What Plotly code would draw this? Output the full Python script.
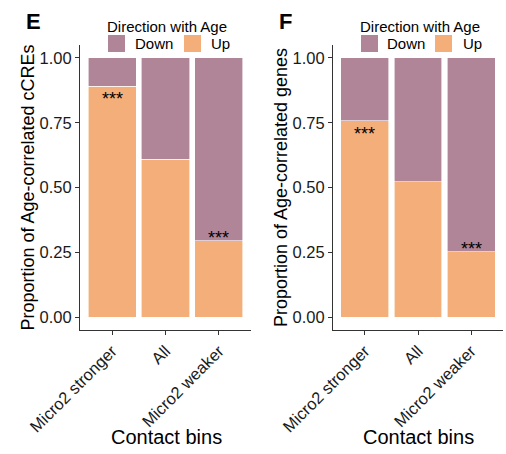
import plotly.graph_objects as go

# contact bins on the x axis
bins = ["Micro2 stronger", "All", "Micro2 weaker"]

# panel E: cCREs
cre_up = [0.89, 0.61, 0.295]
cre_down = [0.11, 0.39, 0.705]
cre_sig = ["***", "", "***"]

# panel F: genes
gene_up = [0.757, 0.522, 0.252]
gene_down = [0.243, 0.478, 0.748]
gene_sig = ["***", "", "***"]

col_down = "#B08598"
col_up = "#F3AE79"
font = "Liberation Sans, Arial, sans-serif"

fig = go.Figure()

panels = [
    ("x", "y", cre_up, cre_down, cre_sig),
    ("x2", "y2", gene_up, gene_down, gene_sig),
]
for xa, ya, up, down, sig in panels:
    fig.add_trace(go.Bar(x=bins, y=up, name="Up", marker_color=col_up,
                         marker_line=dict(color="white", width=0.6),
                         width=0.9, xaxis=xa, yaxis=ya, showlegend=False))
    fig.add_trace(go.Bar(x=bins, y=down, name="Down", marker_color=col_down,
                         marker_line=dict(color="white", width=0.6),
                         width=0.9, xaxis=xa, yaxis=ya, showlegend=False))
    for b, v, s in zip(bins, up, sig):
        if not s:
            continue
        # stars sit just under the split when Up dominates, just over it otherwise
        if v > 0.5:
            anchor, shift = "top", -1
        else:
            anchor, shift = "middle", 3
        fig.add_annotation(x=b, y=v, xref=xa, yref=ya, text=s, showarrow=False,
                           xanchor="center", yanchor=anchor, yshift=shift,
                           font=dict(size=18, color="black", family=font))

W, H = 506, 454

def px_x(p):
    return p / W

def px_y(p):
    return 1 - p / H

axis_common = dict(showline=True, linecolor="#333333", linewidth=1,
                   ticks="outside", ticklen=4, tickcolor="#333333",
                   showgrid=False, zeroline=False, automargin=False,
                   tickfont=dict(size=16.5, color="#1a1a1a", family=font))

fig.update_layout(
    width=W, height=H,
    margin=dict(l=0, r=0, t=0, b=0),
    paper_bgcolor="white", plot_bgcolor="white",
    barmode="stack", bargap=0.1,
    font=dict(family=font, color="black"),
    xaxis=dict(domain=[px_x(80), px_x(251)], anchor="y", type="category",
               range=[-0.6, 2.6], tickangle=-45, **axis_common),
    yaxis=dict(domain=[px_y(330), px_y(45)], anchor="x", range=[-0.05, 1.05],
               tickvals=[0, 0.25, 0.5, 0.75, 1.0], tickformat=".2f",
               title=dict(text="Proportion of Age-correlated cCREs",
                          font=dict(size=18), standoff=0),
               **axis_common),
    xaxis2=dict(domain=[px_x(333), px_x(503)], anchor="y2", type="category",
                range=[-0.6, 2.6], tickangle=-45, **axis_common),
    yaxis2=dict(domain=[px_y(330), px_y(45)], anchor="x2", range=[-0.05, 1.05],
                tickvals=[0, 0.25, 0.5, 0.75, 1.0], tickformat=".2f",
                title=dict(text="Proportion of Age-correlated genes",
                           font=dict(size=18), standoff=0),
                **axis_common),
)

# x axis titles, placed by hand so they sit close under the rotated labels
for cx in [166, 418]:
    fig.add_annotation(x=px_x(cx), y=px_y(437), xref="paper", yref="paper",
                       text="Contact bins", showarrow=False,
                       xanchor="center", yanchor="middle",
                       font=dict(size=20, color="black", family=font))

# panel letters
for letter, xp in [("E", 33), ("F", 285)]:
    fig.add_annotation(x=px_x(xp), y=px_y(21), xref="paper", yref="paper",
                       text="<b>%s</b>" % letter, showarrow=False,
                       xanchor="center", yanchor="middle",
                       font=dict(size=22, color="black", family=font))

# hand-drawn legends above each panel
legends = [(167, 108, 133, 184, 209), (420, 361, 385, 435, 461)]
for cx, kd, td, ku, tu in legends:
    fig.add_annotation(x=px_x(cx), y=px_y(26), xref="paper", yref="paper",
                       text="Direction with Age", showarrow=False,
                       xanchor="center", yanchor="middle",
                       font=dict(size=15, color="black", family=font))
    for kx, tx, col, lab in [(kd, td, col_down, "Down"), (ku, tu, col_up, "Up")]:
        fig.add_shape(type="rect", xref="paper", yref="paper",
                      x0=px_x(kx), x1=px_x(kx + 17), y0=px_y(52), y1=px_y(35),
                      fillcolor=col, line=dict(width=0))
        fig.add_annotation(x=px_x(tx), y=px_y(43.5), xref="paper", yref="paper",
                           text=lab, showarrow=False,
                           xanchor="left", yanchor="middle",
                           font=dict(size=15, color="black", family=font))

# page body has a default 8px margin; drop it so the figure sits at the corner
fig.write_html("out.html", config={"displayModeBar": False},
               post_script="document.body.style.margin='0px';")
